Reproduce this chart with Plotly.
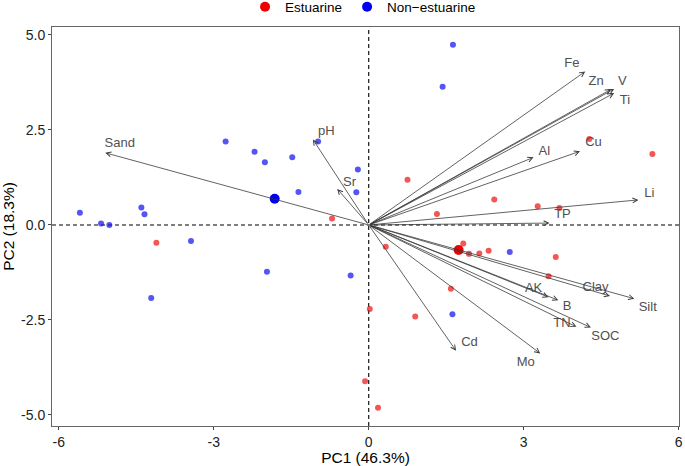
import plotly.graph_objects as go

# sample scores (PC1, PC2)
est_x = [-0.71, -4.11, 0.02, -0.07, 0.18, 4.27, 5.49, 0.75, 2.43, 3.27, 3.69, 1.32,
         0.33, 1.83, 1.94, 2.14, 2.32, 3.62, 3.48, 1.59, 0.90]
est_y = [0.17, -0.47, -2.21, -4.11, -4.81, 2.26, 1.87, 1.19, 0.67, 0.49, 0.45, 0.29,
         -0.57, -0.49, -0.76, -0.75, -0.68, -0.84, -1.35, -1.68, -2.41]

non_x = [-5.59, -5.18, -5.02, -4.40, -4.34, -2.77, -2.21, -2.01, -1.48, -1.36, -0.98,
         -0.21, -0.24, -3.44, -1.97, -0.35, -4.21, 1.63, 1.43, 2.73, 1.62]
non_y = [0.32, 0.04, 0.00, 0.46, 0.28, 2.20, 1.93, 1.65, 1.78, 0.87, 2.20,
         1.46, 0.86, -0.42, -1.23, -1.33, -1.92, 4.74, 3.64, -0.71, -2.35]

# group centroids
cen_est = (1.74, -0.66)
cen_non = (-1.82, 0.69)

# variable loadings (arrow tips) and label spots
var_names = ["Sand", "pH", "Sr", "Fe", "Zn", "V", "Ti", "Al", "Cu", "Li", "TP",
             "AK", "B", "Clay", "Silt", "TN", "SOC", "Cd", "Mo"]
load_x = [-5.10, -1.08, -0.61, 4.19, 4.69, 4.75, 4.75, 3.19, 4.09, 5.22, 3.50,
          3.48, 3.67, 4.67, 5.14, 4.02, 4.30, 1.69, 3.32]
load_y = [1.90, 2.25, 0.95, 4.04, 3.57, 3.58, 3.47, 1.78, 1.94, 0.66, 0.05,
          -1.90, -1.98, -1.87, -1.94, -2.68, -2.70, -3.31, -3.38]
lab_x = [-4.82, -0.82, -0.37, 3.93, 4.40, 4.91, 4.96, 3.40, 4.35, 5.43, 3.75,
         3.19, 3.84, 4.39, 5.40, 3.74, 4.58, 1.95, 3.04]
lab_y = [2.14, 2.45, 1.12, 4.24, 3.76, 3.76, 3.28, 1.92, 2.16, 0.83, 0.27,
         -1.68, -2.16, -1.64, -2.18, -2.61, -2.93, -3.09, -3.62]

fig = go.Figure()

fig.add_trace(go.Scatter(x=est_x, y=est_y, mode="markers", showlegend=False,
                         marker=dict(color="rgba(240,20,20,0.72)", size=6)))
fig.add_trace(go.Scatter(x=non_x, y=non_y, mode="markers", showlegend=False,
                         marker=dict(color="rgba(20,20,240,0.72)", size=6)))

# variable arrows
for i in range(len(var_names)):
    fig.add_annotation(x=load_x[i], y=load_y[i], ax=0, ay=0, xref="x", yref="y",
                       axref="x", ayref="y", text="", showarrow=True,
                       arrowhead=5, arrowsize=1.2, arrowwidth=0.8, arrowcolor="#3a3a3a")
fig.add_trace(go.Scatter(x=lab_x, y=lab_y, mode="text", text=var_names, showlegend=False,
                         textfont=dict(size=13, color="#505050", family="Liberation Sans")))

fig.add_trace(go.Scatter(x=[cen_est[0]], y=[cen_est[1]], mode="markers", name="Estuarine",
                         marker=dict(color="#ee0000", size=10)))
fig.add_trace(go.Scatter(x=[cen_non[0]], y=[cen_non[1]], mode="markers", name="Non\u2212estuarine",
                         marker=dict(color="#0000ee", size=10)))

fig.add_shape(type="line", x0=0, x1=0, y0=0, y1=1, xref="x", yref="paper",
              line=dict(color="black", width=1.1, dash="4px,3px"), layer="below")
fig.add_shape(type="line", x0=0, x1=1, y0=0, y1=0, xref="paper", yref="y",
              line=dict(color="black", width=1.1, dash="4px,3px"), layer="below")

fig.update_layout(
    width=685, height=466,
    margin=dict(l=52, r=6, t=27, b=40, autoexpand=False),
    plot_bgcolor="white", paper_bgcolor="white",
    font=dict(family="Liberation Sans", color="#222222"),
    legend=dict(orientation="h", x=0.53, xanchor="center", xref="container",
                y=0.985, yanchor="middle", yref="container",
                font=dict(size=13.5, color="black"), itemwidth=30, tracegroupgap=0),
)
fig.update_xaxes(range=[-6.13, 6.005], tickvals=[-6, -3, 0, 3, 6],
                 ticktext=["-6", "-3", "0", "3", "6"], showgrid=False, zeroline=False,
                 showline=True, mirror=True, linecolor="#666666", linewidth=1,
                 ticks="outside", ticklen=3, tickcolor="#444444", automargin=False,
                 tickfont=dict(size=14, color="#222222"),
                 title=dict(text="PC1 (46.3%)", font=dict(size=15.5, color="black")))
fig.update_yaxes(range=[-5.29, 5.21], tickvals=[-5, -2.5, 0, 2.5, 5],
                 ticktext=["-5.0", "-2.5", "0.0", "2.5", "5.0"], showgrid=False, zeroline=False,
                 showline=True, mirror=True, linecolor="#666666", linewidth=1,
                 ticks="outside", ticklen=3, tickcolor="#444444", automargin=False,
                 tickfont=dict(size=14, color="#222222"),
                 title=dict(text="PC2 (18.3%)", font=dict(size=15.5, color="black")))

# the page's default 8px body margin would shift the figure
fig.write_html("out.html", config={"displayModeBar": False},
               post_script="document.body.style.margin = '0';")
